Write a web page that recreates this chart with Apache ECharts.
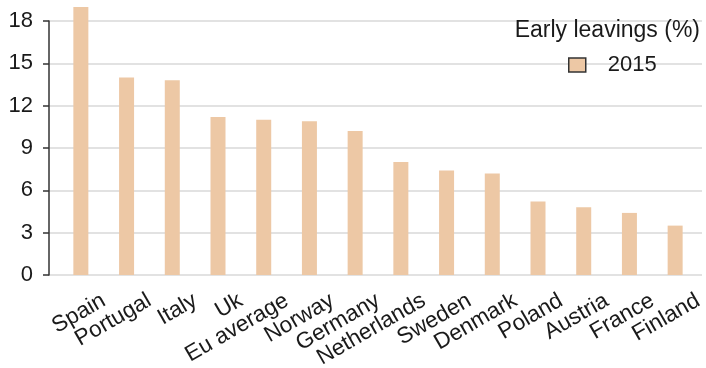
<!DOCTYPE html>
<html>
<head>
<meta charset="utf-8">
<script src="https://cdn.jsdelivr.net/npm/echarts@6/dist/echarts.min.js"></script>
<style>
  html, body { margin: 0; padding: 0; background: #fff; }
  #chart { width: 706px; height: 368px; }
</style>
</head>
<body>
<div id="chart"></div>
<script>
// Early school leavers by country, 2015 (%)
const categories = ['Spain', 'Portugal', 'Italy', 'Uk', 'Eu average', 'Norway', 'Germany',
  'Netherlands', 'Sweden', 'Denmark', 'Poland', 'Austria', 'France', 'Finland'];
const leavings2015 = [19.0, 14.0, 13.8, 11.2, 11.0, 10.9, 10.2, 8.0, 7.4, 7.2, 5.2, 4.8, 4.4, 3.5];
const seriesName = '2015';
const chartTitle = 'Early leavings (%)';
const yMin = 0, yMax = 18, yStep = 3;

const FONT = 'Liberation Sans, Arial, sans-serif';
const TEXT = '#1a1a1a';

const chart = echarts.init(document.getElementById('chart'), null, { renderer: 'canvas' });
chart.setOption({
  animation: false,
  backgroundColor: '#fff',
  title: {
    text: chartTitle,
    right: 1,
    top: 14,
    textStyle: { fontFamily: FONT, fontSize: 23, fontWeight: 'normal', color: TEXT }
  },
  legend: {
    data: [seriesName],
    left: 563,
    top: 49,
    icon: 'rect',
    itemWidth: 17,
    itemHeight: 14,
    itemStyle: { borderColor: '#333', borderWidth: 1.5 },
    textStyle: { fontFamily: FONT, fontSize: 22, color: TEXT, padding: [0, 0, 0, 17] }
  },
  // Guide lines span the full plot; bars sit in a slightly narrower band;
  // the label axis is shifted half a category so each label ends at its band edge.
  grid: [
    { left: 49, right: 4, top: 21, bottom: 93, outerBoundsMode: 'none' },
    { left: 58, right: 8, top: 21, bottom: 93, outerBoundsMode: 'none' },
    { left: 81, width: 640, top: 21, bottom: 93, outerBoundsMode: 'none' }
  ],
  xAxis: [
    { gridIndex: 0, type: 'category', data: categories, show: false },
    {
      gridIndex: 1, type: 'category', data: categories,
      axisLine: { show: false }, axisTick: { show: false }, axisLabel: { show: false }
    },
    {
      gridIndex: 2, type: 'category', data: categories,
      axisLine: { show: false }, axisTick: { show: false },
      axisLabel: { rotate: 30, margin: 24, fontFamily: FONT, fontSize: 22.5, color: TEXT, interval: 0 }
    }
  ],
  yAxis: [
    {
      gridIndex: 0, type: 'value', min: yMin, max: yMax, interval: yStep,
      axisLine: { show: false }, axisTick: { show: false }, axisLabel: { show: false },
      splitLine: { show: true, lineStyle: { color: '#d8d8d8', width: 1.5 } }
    },
    {
      gridIndex: 1, type: 'value', min: yMin, max: yMax, interval: yStep, offset: 9,
      axisLine: { show: true, lineStyle: { color: '#333', width: 1.5 } },
      axisTick: { show: true, length: 6, lineStyle: { color: '#333', width: 1.5 } },
      axisLabel: { margin: 16, fontFamily: FONT, fontSize: 22, color: TEXT },
      splitLine: { show: false }
    },
    { gridIndex: 2, type: 'value', min: yMin, max: yMax, show: false }
  ],
  series: [{
    name: seriesName,
    type: 'bar',
    xAxisIndex: 1,
    yAxisIndex: 1,
    data: leavings2015,
    barWidth: 15,
    clip: false,
    itemStyle: { color: '#edc8a5' }
  }]
});
</script>
</body>
</html>
